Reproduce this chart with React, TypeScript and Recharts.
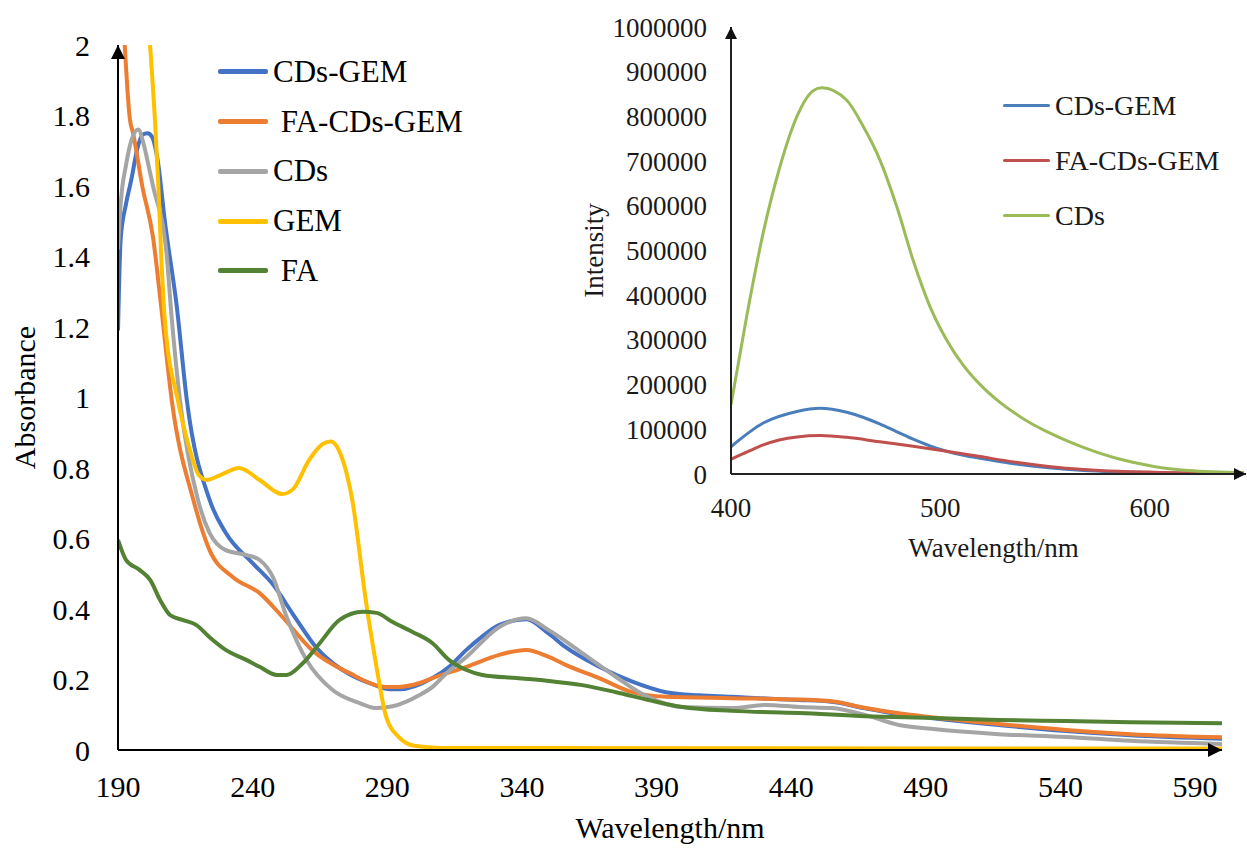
import React from 'react';
import { LineChart, Line, XAxis, YAxis, Legend } from 'recharts';

// ---- UV-Vis absorbance (main chart) ----
const seriesNames = ['CDs-GEM', ' FA-CDs-GEM', 'CDs', 'GEM', ' FA'];
const seriesColors = ['#4472C4', '#ED7D31', '#A5A5A5', '#FFC000', '#548235'];

const cdsGemWl = [190, 191, 193, 195, 197, 199, 201, 202.6, 204.8, 207.4, 211.8, 215.6, 224, 230, 240, 247.5, 255, 263.7, 270, 276, 284, 291, 294.5, 306.8, 313, 319.4, 325, 331.6, 341.6, 350, 356, 368.7, 381, 393.5, 405.8, 418, 430.6, 443, 455, 467.7, 480, 492, 517, 542, 566, 600];
const cdsGemAbs = [1.19, 1.45, 1.55, 1.62, 1.70, 1.745, 1.75, 1.74, 1.67, 1.5, 1.26, 0.99, 0.71, 0.616, 0.53, 0.47, 0.385, 0.29, 0.245, 0.215, 0.188, 0.172, 0.172, 0.204, 0.236, 0.284, 0.32, 0.355, 0.371, 0.33, 0.293, 0.236, 0.194, 0.164, 0.155, 0.151, 0.146, 0.142, 0.137, 0.118, 0.102, 0.091, 0.071, 0.054, 0.042, 0.032];

const faCdsGemWl = [192.5, 194.4, 195.6, 199, 203, 206, 210, 218, 224, 232.6, 242.6, 251, 262, 276, 289.7, 294.5, 302, 306.8, 319.4, 331.6, 341.6, 350, 356.4, 368.7, 381, 393.5, 418, 443, 455, 467.7, 480, 492, 517, 542, 566, 600];
const faCdsGemAbs = [2.0, 1.79, 1.75, 1.6, 1.455, 1.26, 0.99, 0.709, 0.567, 0.491, 0.445, 0.378, 0.284, 0.218, 0.179, 0.179, 0.19, 0.204, 0.236, 0.27, 0.284, 0.264, 0.241, 0.204, 0.164, 0.151, 0.147, 0.143, 0.138, 0.119, 0.104, 0.093, 0.074, 0.057, 0.045, 0.036];

const cdsWl = [190, 191, 193, 195, 197.5, 199.5, 201, 203, 208, 210, 213, 219.7, 224, 230, 237.8, 242.6, 247.5, 252.6, 260, 269.7, 279.7, 286, 292, 302, 306.8, 312, 319.4, 331.6, 341.6, 350, 362.4, 375, 387, 399.5, 418, 430.6, 443, 455, 467.7, 480, 492, 517, 542, 566, 600];
const cdsAbs = [1.42, 1.55, 1.66, 1.73, 1.76, 1.72, 1.67, 1.6, 1.41, 1.22, 0.993, 0.709, 0.616, 0.567, 0.553, 0.539, 0.491, 0.378, 0.255, 0.17, 0.133, 0.119, 0.124, 0.156, 0.179, 0.218, 0.264, 0.349, 0.374, 0.34, 0.275, 0.207, 0.15, 0.122, 0.119, 0.128, 0.122, 0.119, 0.099, 0.071, 0.06, 0.045, 0.037, 0.026, 0.017];

const gemWl = [201.9, 203.7, 205, 206, 207.4, 212.2, 216.7, 220, 223, 228, 235, 242.6, 251, 255, 261, 266, 269, 272, 277, 282, 286, 289.6, 294.5, 300, 310, 400, 500, 600];
const gemAbs = [2.0, 1.79, 1.6, 1.41, 1.22, 0.993, 0.851, 0.78, 0.766, 0.78, 0.8, 0.766, 0.726, 0.74, 0.823, 0.868, 0.875, 0.851, 0.709, 0.426, 0.236, 0.094, 0.035, 0.012, 0.006, 0.005, 0.004, 0.004];

const faWl = [190, 193, 198, 202, 205.6, 209.3, 214, 219, 224, 230, 237.8, 242.6, 249, 252.6, 258.6, 264.9, 272.3, 281, 286, 292, 299.4, 306.8, 313, 319.4, 325.3, 338, 350, 362.4, 375, 387, 399.5, 418, 443, 467.7, 492, 517, 542, 566, 600];
const faAbs = [0.596, 0.539, 0.511, 0.482, 0.426, 0.383, 0.369, 0.355, 0.32, 0.284, 0.255, 0.236, 0.213, 0.213, 0.246, 0.303, 0.369, 0.392, 0.389, 0.363, 0.335, 0.303, 0.255, 0.227, 0.213, 0.204, 0.196, 0.184, 0.164, 0.142, 0.122, 0.111, 0.105, 0.096, 0.091, 0.085, 0.082, 0.079, 0.076];

const mainXTicks = [190, 240, 290, 340, 390, 440, 490, 540, 590];
const mainYTicks = [0, 0.2, 0.4, 0.6, 0.8, 1, 1.2, 1.4, 1.6, 1.8, 2];

// ---- Fluorescence (inset) ----
const insetNames = ['CDs-GEM', 'FA-CDs-GEM', 'CDs'];
const insetColors = ['#4A7EBB', '#C0504D', '#9BBB59'];

const flCdsGemWl = [400, 415.4, 431.5, 442.6, 455.3, 463, 471, 479, 487, 495, 503, 511, 519, 535, 551.7, 568.6, 585, 602, 645];
const flCdsGemInt = [61000, 114000, 140000, 147000, 138000, 127000, 112000, 95000, 78000, 63000, 51000, 42000, 35000, 23000, 14000, 8000, 5000, 3000, 1000];

const flFaCdsGemWl = [400, 408, 415.4, 423, 431.5, 442.6, 455.3, 471, 487, 503, 519, 535, 551.7, 568.6, 585, 602, 645];
const flFaCdsGemInt = [33000, 50000, 65000, 76000, 83000, 86000, 82000, 72000, 62000, 51000, 39000, 27000, 17000, 10000, 6000, 4000, 2000];

const flCdsWl = [400, 407.5, 415.4, 423.4, 431.5, 439.4, 443.4, 455.3, 463, 471, 479.4, 487, 495, 503, 511, 519, 527, 535, 543, 551.7, 560, 568.6, 585, 602, 618.7, 645];
const flCdsInt = [155000, 353000, 540000, 688000, 800000, 858000, 864000, 836000, 779000, 704000, 595000, 478000, 375000, 300000, 243000, 200000, 166000, 138000, 114000, 93000, 75000, 59000, 34000, 17000, 8000, 3000];

const insetXTicks = [400, 500, 600];
const insetYTicks = [0, 100000, 200000, 300000, 400000, 500000, 600000, 700000, 800000, 900000, 1000000];

const toPoints = (xs: number[], ys: number[]) => xs.map((x, i) => ({ x, y: ys[i] }));

const mainSeries = [
  toPoints(cdsGemWl, cdsGemAbs),
  toPoints(faCdsGemWl, faCdsGemAbs),
  toPoints(cdsWl, cdsAbs),
  toPoints(gemWl, gemAbs),
  toPoints(faWl, faAbs),
];
const insetSeries = [
  toPoints(flCdsGemWl, flCdsGemInt),
  toPoints(flFaCdsGemWl, flFaCdsGemInt),
  toPoints(flCdsWl, flCdsInt),
];

const FONT = '"Liberation Serif", "Times New Roman", serif';

// legend drawn in series order (Recharts sorts its payload otherwise)
const makeLegend = (names: string[], colors: string[], lineW: number, gap: number, rowH: number,
  fontSize: number, strokeW: number, textColor: string) =>
  () => (
    <div style={{ fontFamily: FONT, fontSize, color: textColor }}>
      {names.map((n, i) => (
        <div key={n} style={{ display: 'flex', alignItems: 'center', height: rowH }}>
          <span style={{ display: 'inline-block', width: lineW, height: strokeW, background: colors[i], borderRadius: 2 }} />
          <span style={{ marginLeft: gap, whiteSpace: 'pre' }}>{n}</span>
        </div>
      ))}
    </div>
  );

export default function App() {
  return (
    <div style={{ position: 'absolute', left: 0, top: 0, width: 1247, height: 848, background: '#fff' }}>
      <svg width={0} height={0} style={{ position: 'absolute' }}>
        <defs>
          <marker id="arrowMain" viewBox="0 0 10 10" refX="10" refY="5" markerUnits="userSpaceOnUse"
            markerWidth="14" markerHeight="14" orient="auto-start-reverse">
            <path d="M0,0 L10,5 L0,10 z" fill="#000" />
          </marker>
          <marker id="arrowInset" viewBox="0 0 10 10" refX="10" refY="5" markerUnits="userSpaceOnUse"
            markerWidth="12" markerHeight="12" orient="auto-start-reverse">
            <path d="M0,0 L10,5 L0,10 z" fill="#111" />
          </marker>
        </defs>
      </svg>

      {/* main absorbance chart */}
      <div style={{ position: 'absolute', left: 0, top: 0 }}>
        <LineChart width={1247} height={848} margin={{ top: 45, right: 25, bottom: 0, left: 0 }}>
          <XAxis
            type="number" dataKey="x" domain={[190, 600]} ticks={mainXTicks} allowDataOverflow
            height={98} tickLine={false} tickSize={0} tickMargin={26}
            axisLine={{ stroke: '#000', strokeWidth: 2, markerEnd: 'url(#arrowMain)' }}
            tick={{ fill: '#000', fontSize: 30, fontFamily: FONT }}
            label={{
              content: ({ viewBox }: any) => (
                <text x={viewBox.x + viewBox.width / 2} y={viewBox.y + 88} textAnchor="middle"
                  fontSize={30} fontFamily={FONT} fill="#000">Wavelength/nm</text>
              ),
            }}
          />
          <YAxis
            type="number" dataKey="y" domain={[0, 2]} ticks={mainYTicks} allowDataOverflow
            width={118} tickLine={false} tickSize={0} tickMargin={28}
            axisLine={{ stroke: '#000', strokeWidth: 2, markerStart: 'url(#arrowMain)' }}
            tick={{ fill: '#000', fontSize: 30, fontFamily: FONT }}
            label={{
              content: ({ viewBox }: any) => {
                const cx = viewBox.x + 35;
                const cy = viewBox.y + viewBox.height / 2;
                return (
                  <text x={cx} y={cy} transform={`rotate(-90 ${cx} ${cy})`} textAnchor="middle"
                    fontSize={30} fontFamily={FONT} fill="#000">Absorbance</text>
                );
              },
            }}
          />
          <Legend
            layout="vertical" align="center" verticalAlign="middle"
            wrapperStyle={{ left: 218, top: 47, width: 300 }}
            content={makeLegend(seriesNames, seriesColors, 50, 5, 49.75, 31, 5, '#000')}
          />
          {mainSeries.map((data, i) => (
            <Line key={seriesNames[i]} data={data} dataKey="y" name={seriesNames[i]} type="monotone"
              stroke={seriesColors[i]} strokeWidth={4} dot={false} activeDot={false}
              isAnimationActive={false} />
          ))}
        </LineChart>
      </div>

      {/* fluorescence inset */}
      <div style={{ position: 'absolute', left: 560, top: 0 }}>
        <LineChart width={687} height={574} margin={{ top: 27, right: 1, bottom: 0, left: 0 }}>
          <XAxis
            type="number" dataKey="x" domain={[400, 646]} ticks={insetXTicks} allowDataOverflow
            height={100} tickLine={false} tickSize={0} tickMargin={24}
            axisLine={{ stroke: '#222', strokeWidth: 2, markerEnd: 'url(#arrowInset)' }}
            tick={{ fill: '#1a1a1a', fontSize: 27, fontFamily: FONT }}
            label={{
              content: ({ viewBox }: any) => (
                <text x={viewBox.x + viewBox.width / 2 + 5} y={viewBox.y + 83} textAnchor="middle"
                  fontSize={27} fontFamily={FONT} fill="#1a1a1a">Wavelength/nm</text>
              ),
            }}
          />
          <YAxis
            type="number" dataKey="y" domain={[0, 1000000]} ticks={insetYTicks} allowDataOverflow
            width={171} tickLine={false} tickSize={0} tickMargin={24}
            axisLine={{ stroke: '#222', strokeWidth: 2, markerStart: 'url(#arrowInset)' }}
            tick={{ fill: '#1a1a1a', fontSize: 27, fontFamily: FONT }}
            label={{
              content: ({ viewBox }: any) => {
                const cx = viewBox.x + 43;
                const cy = viewBox.y + viewBox.height / 2;
                return (
                  <text x={cx} y={cy} transform={`rotate(-90 ${cx} ${cy})`} textAnchor="middle"
                    fontSize={27} fontFamily={FONT} fill="#1a1a1a">Intensity</text>
                );
              },
            }}
          />
          <Legend
            layout="vertical" align="center" verticalAlign="middle"
            wrapperStyle={{ left: 443, top: 78, width: 240 }}
            content={makeLegend(insetNames, insetColors, 47, 5, 55, 28, 3, '#1a1a1a')}
          />
          {insetSeries.map((data, i) => (
            <Line key={insetNames[i]} data={data} dataKey="y" name={insetNames[i]} type="monotone"
              stroke={insetColors[i]} strokeWidth={3} dot={false} activeDot={false}
              isAnimationActive={false} />
          ))}
        </LineChart>
      </div>
    </div>
  );
}
